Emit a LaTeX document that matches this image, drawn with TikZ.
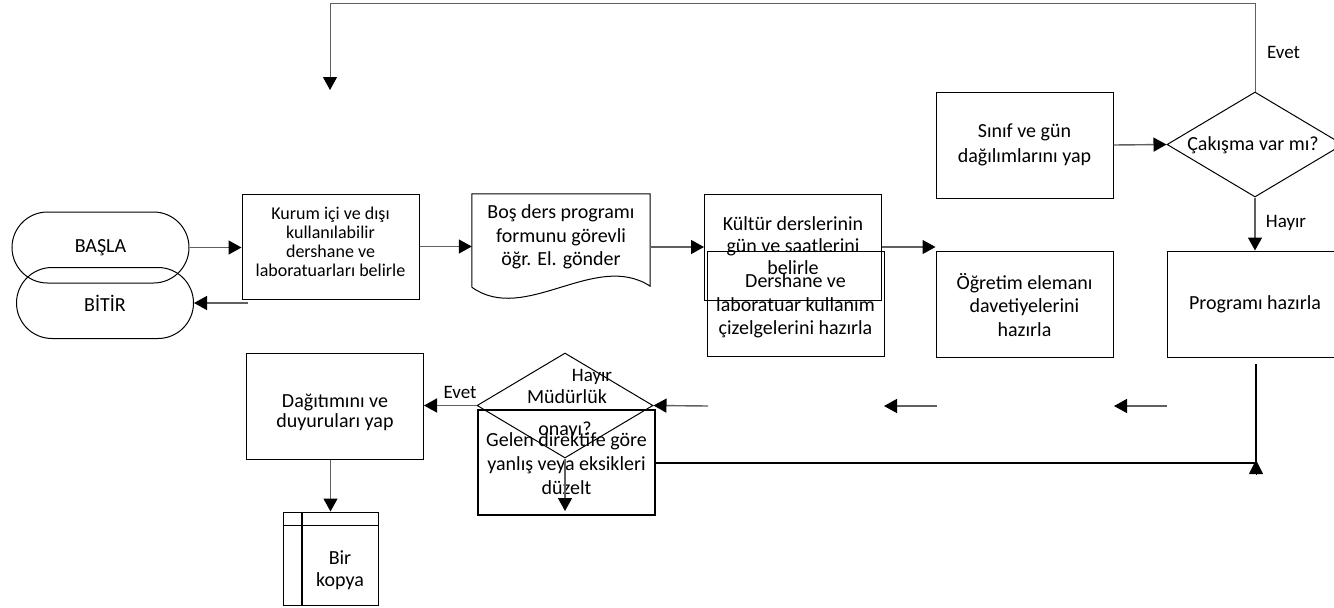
\documentclass[tikz,border=0pt]{standalone}
\usepackage{fontspec}
\setmainfont{Carlito}
\usetikzlibrary{arrows.meta,shapes.geometric,shapes.misc,calc}
\definecolor{lc}{RGB}{96,96,96}
\begin{document}
\begin{tikzpicture}[x=1pt,y=-1pt,
  every node/.style={font=\fontsize{20}{23.5}\selectfont, inner sep=0pt, align=center},
  box/.style={draw=black, line width=1pt, rectangle, minimum width=177pt, minimum height=106pt},
  stad/.style={draw=black, line width=1pt, rounded rectangle, minimum width=177pt, minimum height=71pt},
  dia/.style={draw=black, line width=1pt, diamond, minimum width=176pt, minimum height=105pt},
  lbl/.style={font=\fontsize{19}{22}\selectfont},
  kfont/.style={font=\fontsize{18}{19}\selectfont},
  tip/.style={-{Triangle[length=13pt,width=14pt,color=black,fill=black]}},
  conn/.style={draw=lc, line width=1.4pt, tip},
]
\fill[white] (0,0) rectangle (1334,608);
\useasboundingbox (0,0) rectangle (1334,608);

% terminals
\node[stad] (basla) at (100.5,247.5) {BAŞLA};
\node[stad] (bitir) at (105,303) {BİTİR};

% process boxes
\node[box, minimum height=105pt, label={[name=kurumT, kfont, yshift=5pt]center:{Kurum içi ve dışı\\kullanılabilir\\dershane ve\\laboratuarları belirle}}] (kurum) at (330.5,246.5) {};

\node[rectangle, minimum width=178pt, minimum height=93pt, label={[name=bosT, yshift=3.5pt]center:{Boş ders programı\\formunu görevli\\öğr. El. gönder}}] (bos) at (561,240.5) {};
\draw[black, line width=1pt] (bos.south west) -- (bos.north west) -- (bos.north east) -- ($(bos.south east)+(0,-1)$)
  .. controls ($(bos.south east)+(-55,-37)$) and ($(bos.south west)+(53,38)$) .. (bos.south west);

\node[box, label={[name=kulturT, font=\fontsize{20}{22}\selectfont, yshift=1pt]center:{Kültür derslerinin\\gün ve saatlerini\\belirle}}] (kultur) at (793,247) {};
\node[box, minimum height=105pt, label={[name=dershT, yshift=-2.5pt]center:{Dershane ve\\laboratuar kullanım\\çizelgelerini hazırla}}] (dersh) at (795.5,303.5) {};
\node[box, label={[name=ogretT, yshift=-1pt]center:{Öğretim elemanı\\davetiyelerini\\hazırla}}] (ogret) at (1024.5,304) {};
\node[box, font=\fontsize{20}{25}\selectfont] (sinif) at (1024.5,145) {Sınıf ve gün\\dağılımlarını yap};
\node[dia] (cak) at (1255,144.5) {};
\node (cakT) at (1253,145) {Çakışma var mı?};
\node[box, minimum width=176pt] (prog) at (1255,304) {Programı hazırla};

\node[box, label={[name=dagT, font=\fontsize{20}{20}\selectfont, yshift=-6pt]center:{Dağıtımını ve\\duyuruları yap}}] (dag) at (335,406) {};
\node[dia] (mud) at (565,405.5) {};
\node (mudT1) at (567,397) {Müdürlük};
\node (mudT2) at (565,430) {onayı?};
\node[box, line width=2.2pt, minimum height=105pt, label={[name=gelenT, font=\fontsize{20}{24}\selectfont, yshift=-1.5pt]center:{Gelen direktife göre\\yanlış veya eksikleri\\düzelt}}] (gelen) at (566.5,462.5) {};

% internal storage
\node[draw=black, line width=1pt, rectangle, minimum width=95pt, minimum height=93pt] (kopya) at (330.5,558.5) {};
\node[font=\fontsize{20}{22}\selectfont] (kopyaT) at (340,570) {Bir\\kopya};
\draw[black, line width=1pt] ($(kopya.north west)+(0,14)$) -- ($(kopya.north east)+(0,14)$);
\draw[black, line width=2pt] ($(kopya.north west)+(19,0)$) -- ($(kopya.south west)+(19,0)$);

% labels
\node[lbl] (evet1) at (1283.5,52) {Evet};
\node[lbl] (hayir1) at (1286,223) {Hayır};
\node[lbl] (evet2) at (460,392) {Evet};
\node[lbl] (hayir2) at (592,377) {Hayır};

% coordinates
\coordinate (kb) at (248,303);
\coordinate (topL) at (330,3);
\coordinate (topEnd) at (330,90);
\coordinate (pb) at (1256,364);
\coordinate (corner) at (1256,463);
\coordinate (s1) at (708,406);
\coordinate (s2) at (937,406);
\coordinate (s2e) at (884,406);
\coordinate (s3) at (1167,406);
\coordinate (s3e) at (1114,406);
\coordinate (mdEnd) at (565,511);

% connectors
\draw[conn] (basla.east) -- (basla.east -| kurum.west);
\draw[conn] (kb) -- (bitir.east);
\draw[conn] (kurum.east) -- (kurum.east -| bos.west);
\draw[conn] (kultur.west -| bos.east) -- (kultur.west);
\draw[conn] (kultur.east) -- (kultur.east -| ogret.west);
\draw[conn] (sinif.east) -- (cak.west);
\draw[conn] (cak.south) -- (prog.north);
\draw[conn, line width=1pt] (cak.north) |- (topL) -- (topEnd);

\draw[black, line width=1.5pt] (pb) -- (corner);
\draw[black, line width=2.2pt] (gelen.east |- corner) -- (corner);
\draw[black, line width=0.5pt, -{Triangle[length=14pt,width=14pt]}] ($(corner)+(0,11)$) -- ($(corner)+(0,-3)$);

\draw[conn] (s1) -- (mud.east);
\draw[conn] (s2) -- (s2e);
\draw[conn] (s3) -- (s3e);
\draw[conn] (mud.west) -- (mud.west -| dag.east);
\draw[conn] (mud.south) -- (mdEnd);
\draw[conn] (dag.south -| kopya.north) -- (kopya.north);
\end{tikzpicture}
\end{document}
